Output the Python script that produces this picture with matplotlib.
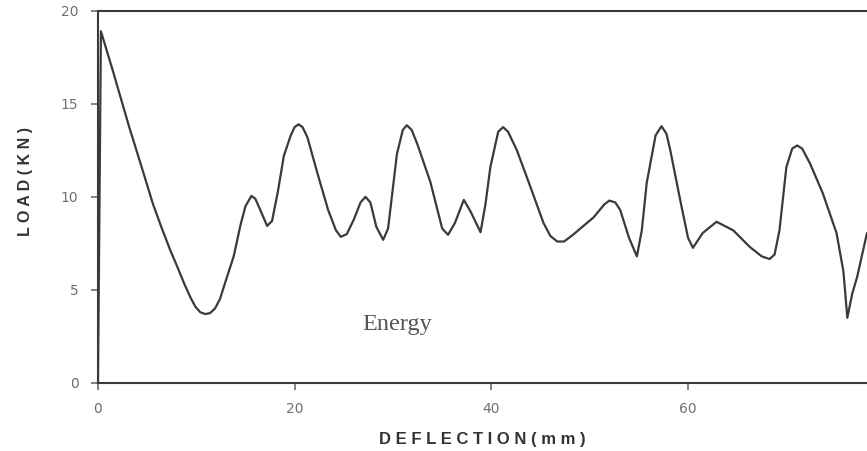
import matplotlib
matplotlib.use("Agg")
import matplotlib.pyplot as plt

# load-deflection curve
deflection = [0, 0.3, 1.5, 3.15, 4.5, 5.6, 6.5, 7.3, 8.1, 8.8, 9.4, 9.9, 10.4, 10.9,
              11.4, 11.9, 12.4, 13.0, 13.8, 14.5, 15.0, 15.6, 16.0, 16.5, 17.2,
              17.7, 18.3, 18.9, 19.6, 20.0, 20.4, 20.8, 21.3, 22.3, 23.4, 24.2,
              24.7, 25.3, 26.0, 26.7, 27.2, 27.7, 28.3, 29.0, 29.5, 30.4, 31.0,
              31.4, 31.9, 32.5, 33.8, 35.0, 35.6, 36.3, 37.2, 37.9, 38.9, 39.4,
              39.9, 40.7, 41.2, 41.7, 42.6, 44.0, 45.3, 46.0, 46.7, 47.4, 48.3,
              50.4, 51.5, 52.0, 52.6, 53.1, 54.0, 54.8, 55.3, 55.8, 56.7, 57.3,
              57.8, 58.2, 59.2, 60.0, 60.5, 61.5, 62.9, 64.6, 66.3, 67.5, 68.3,
              68.8, 69.3, 70.0, 70.6, 71.1, 71.6, 72.4, 73.7, 75.1, 75.8, 76.2,
              76.7, 77.2, 78.2]
load = [0, 18.9, 16.8, 13.8, 11.5, 9.6, 8.3, 7.2, 6.2, 5.3, 4.6, 4.1, 3.8, 3.7,
        3.75, 4.0, 4.5, 5.5, 6.8, 8.5, 9.5, 10.05, 9.9, 9.3, 8.44,
        8.7, 10.3, 12.2, 13.3, 13.75, 13.9, 13.75, 13.2, 11.3, 9.3, 8.2,
        7.85, 8.0, 8.76, 9.7, 10.0, 9.7, 8.4, 7.69, 8.3, 12.3, 13.6,
        13.85, 13.6, 12.8, 10.8, 8.3, 7.96, 8.6, 9.84, 9.2, 8.1, 9.6,
        11.6, 13.5, 13.75, 13.5, 12.5, 10.5, 8.6, 7.9, 7.6, 7.6, 7.96,
        8.9, 9.6, 9.8, 9.7, 9.3, 7.8, 6.8, 8.2, 10.75, 13.3, 13.8,
        13.4, 12.5, 9.84, 7.8, 7.26, 8.06, 8.66, 8.2, 7.3, 6.8, 6.66,
        6.9, 8.2, 11.6, 12.6, 12.76, 12.6, 11.8, 10.2, 8.06, 6.0, 3.5,
        4.8, 5.7, 8.06]

x_ticks = [0, 20, 40, 60]
y_ticks = [0, 5, 10, 15, 20]

ink = "#3a3a3a"
grey = "#707070"

fig = plt.figure(figsize=(8.67, 4.51), dpi=100)
ax = fig.add_axes([0.113, 0.151, 0.887, 0.825])

ax.plot(deflection, load, color=ink, linewidth=1.6,
        solid_joinstyle="round", solid_capstyle="round")

ax.set_xlim(0, 78.2)
ax.set_ylim(0, 20)
ax.set_xticks(x_ticks)
ax.set_yticks(y_ticks)
ax.tick_params(direction="out", length=5, width=1.2, colors=grey,
               labelsize=10, pad=9)
for lbl in ax.get_xticklabels() + ax.get_yticklabels():
    lbl.set_color(grey)

for side in ["left", "bottom", "top"]:
    ax.spines[side].set_color(ink)
    ax.spines[side].set_linewidth(1.5)
ax.spines["right"].set_visible(False)

ax.set_xlabel("D E F L E C T I O N ( m m )", fontsize=12, fontweight="bold",
              color="#333333", family="Liberation Sans", labelpad=11)
ax.set_ylabel("L O A D ( K N )", fontsize=11.5, fontweight="bold",
              color="#333333", family="Liberation Sans", labelpad=20)
ax.yaxis.label.set_y(0.54)

ax.text(26.9, 2.85, "Energy", fontsize=17.5, family="Liberation Serif",
        color="#555555", va="baseline")

plt.savefig("out.png", dpi=100)
